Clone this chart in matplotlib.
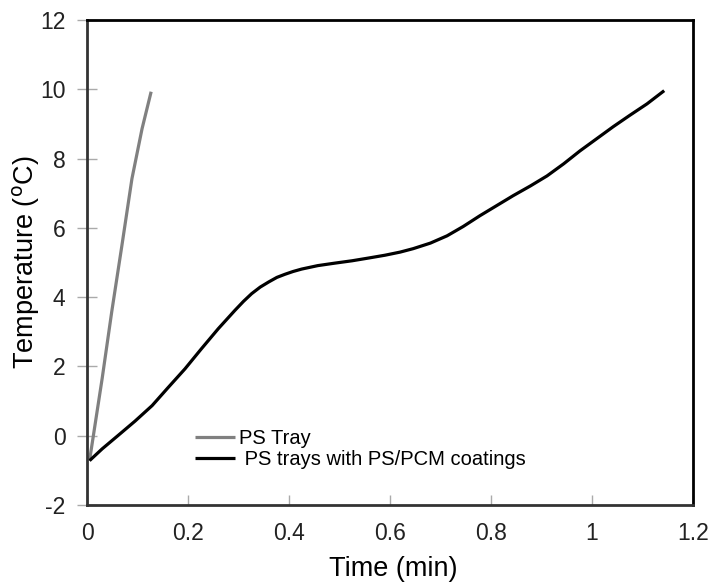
import matplotlib
matplotlib.use("Agg")
import matplotlib.pyplot as plt

plt.rcParams['font.family'] = ['Liberation Sans', 'DejaVu Sans']
plt.rcParams['axes.unicode_minus'] = False

# --- DATA ---
tray_time = [0.005, 0.030, 0.049, 0.069, 0.089, 0.109, 0.127]
tray_temp = [-0.72, 1.65, 3.58, 5.48, 7.42, 8.86, 9.93]

pcm_time = [0.005, 0.030, 0.061, 0.095, 0.129, 0.160, 0.194, 0.226, 0.260,
            0.293, 0.310, 0.326, 0.343, 0.360, 0.376, 0.392, 0.408, 0.425,
            0.457, 0.490, 0.525, 0.558, 0.590, 0.620, 0.646, 0.680, 0.713,
            0.745, 0.778, 0.811, 0.844, 0.878, 0.911, 0.944, 0.976, 1.009,
            1.042, 1.075, 1.109, 1.143]
pcm_temp = [-0.72, -0.38, 0.00, 0.42, 0.87, 1.38, 1.93, 2.50, 3.09,
            3.62, 3.88, 4.10, 4.29, 4.44, 4.57, 4.66, 4.74, 4.81,
            4.91, 4.98, 5.05, 5.13, 5.21, 5.30, 5.40, 5.56, 5.77,
            6.04, 6.35, 6.64, 6.93, 7.21, 7.50, 7.85, 8.22, 8.57,
            8.92, 9.25, 9.58, 9.96]

labels = ["PS Tray", " PS trays with PS/PCM coatings"]
x_ticks = [0, 0.2, 0.4, 0.6, 0.8, 1, 1.2]
x_ticklabels = ["0", "0.2", "0.4", "0.6", "0.8", "1", "1.2"]
y_ticks = [-2, 0, 2, 4, 6, 8, 10, 12]

fig = plt.figure(figsize=(7.14, 5.82), dpi=100)
ax = fig.add_axes([87 / 714, 1 - 505 / 582, 606 / 714, 485 / 582])

ax.plot(tray_time, tray_temp, color='#808080', lw=2.3, solid_capstyle='butt', label=labels[0])
ax.plot(pcm_time, pcm_temp, color='black', lw=2.3, solid_capstyle='butt', label=labels[1])

ax.set_xlim(0, 1.2)
ax.set_ylim(-2, 12)
ax.set_xticks(x_ticks)
ax.set_xticklabels(x_ticklabels)
ax.set_yticks(y_ticks)

for side in ['left', 'bottom', 'top', 'right']:
    ax.spines[side].set_linewidth(2)
ax.spines['left'].set_color('#333333')
ax.spines['bottom'].set_color('#333333')
ax.spines['top'].set_color('black')
ax.spines['right'].set_color('black')

ax.tick_params(axis='x', direction='in', length=7, width=1, color='#aaaaaa',
               labelsize=16.5, labelcolor='#222222', pad=12)
ax.tick_params(axis='y', direction='inout', length=14, width=1, color='#aaaaaa',
               labelsize=16.5, labelcolor='#222222', pad=8.5)

ax.set_xlabel('Time (min)', fontsize=19.5)
ax.set_ylabel('Temperature ($^{\\mathrm{o}}$C)', fontsize=19.5)
ax.xaxis.set_label_coords(0.505, -0.105)
ax.yaxis.set_label_coords(-0.0745, 0.5)

ax.legend(loc='upper left', bbox_to_anchor=(0.178, 0.157), frameon=False,
          fontsize=14.5, handlelength=2.0, handletextpad=0.2, labelspacing=0.1,
          borderaxespad=0, borderpad=0)

fig.savefig('out.png', dpi=100)
